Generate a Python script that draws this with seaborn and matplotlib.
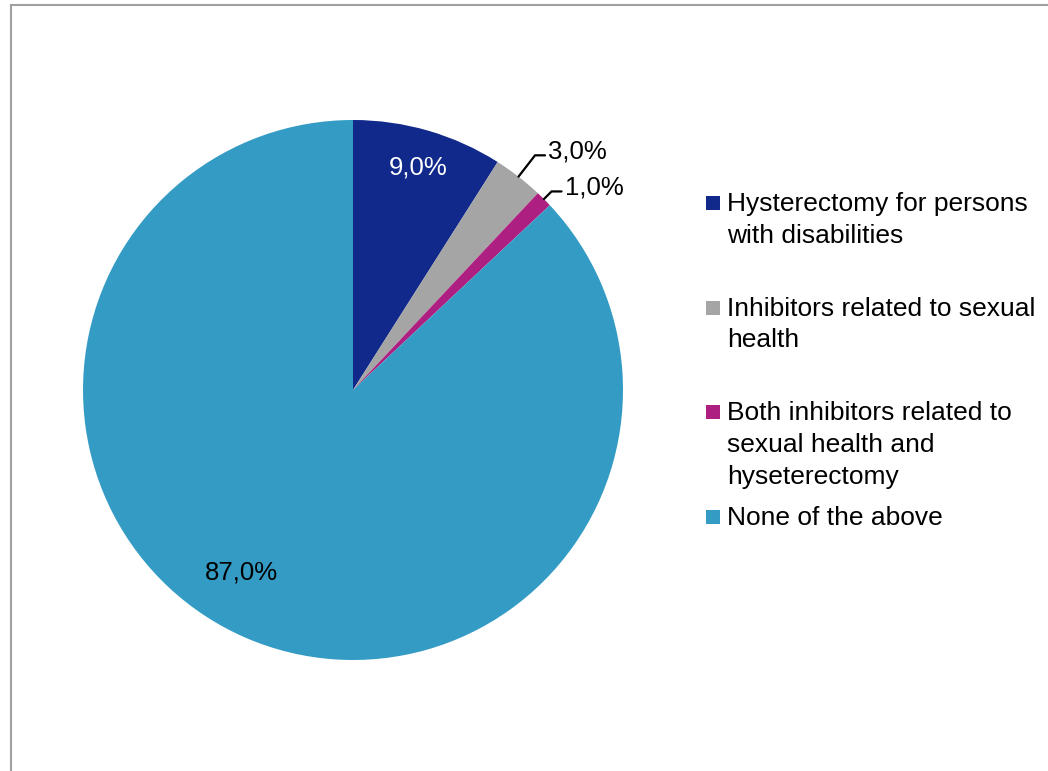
import numpy as np
import matplotlib
matplotlib.use("Agg")
import matplotlib.pyplot as plt
from matplotlib.patches import Rectangle
import seaborn as sns

# data
categories = [
    "Hysterectomy for persons\nwith disabilities",
    "Inhibitors related to sexual\nhealth",
    "Both inhibitors related to\nsexual health and\nhyseterectomy",
    "None of the above",
]
values = [9.0, 3.0, 1.0, 87.0]
colors = ["#10298B", "#A5A5A5", "#AD1F80", "#349CC4"]

sns.set_theme(style="white")
plt.rcParams["font.family"] = ["Liberation Sans", "DejaVu Sans"]

W, H = 1048, 771
fig = plt.figure(figsize=(W / 100, H / 100), dpi=100)

# outer chart frame (cut off at right/bottom like the source)
fig.patches.append(Rectangle((11 / W, -0.05), 1.2, 1 - 5 / H + 0.05,
                             transform=fig.transFigure, fill=False,
                             edgecolor="#A0A0A0", linewidth=1.5))

# pie axes: centre (353, 390), radius 270 px
cx, cy, r = 353, 390, 270
ax = fig.add_axes([(cx - r) / W, 1 - (cy + r) / H, 2 * r / W, 2 * r / H])
wedges, _ = ax.pie(values, colors=colors, startangle=90, counterclock=False,
                   radius=1, wedgeprops=dict(linewidth=0))
ax.set_xlim(-1, 1)
ax.set_ylim(-1, 1)
ax.set_aspect("equal")
ax.axis("off")

fs = 18.5
labels = [f"{v:.1f}".replace(".", ",") + "%" for v in values]
for i, (w, lab) in enumerate(zip(wedges, labels)):
    mid = np.deg2rad((w.theta1 + w.theta2) / 2)
    if i == 0:
        ax.text(0.86 * np.cos(mid), 0.86 * np.sin(mid), lab, color="white",
                fontsize=fs, ha="center", va="center")
    elif i == 3:
        a = mid - np.deg2rad(8)
        ax.text(0.79 * np.cos(a), 0.79 * np.sin(a), lab, color="black",
                fontsize=fs, ha="center", va="center")
    else:
        er = 1.1 if i == 1 else 1.04
        x0, y0 = np.cos(mid), np.sin(mid)
        x1, y1 = er * np.cos(mid), er * np.sin(mid)
        x2 = x1 + 0.037
        ax.plot([x0, x1, x2], [y0, y1, y1], color="black", lw=1.6,
                clip_on=False, solid_joinstyle="miter")
        ax.text(x2 + 0.012, y1 + 0.013, lab, color="black", fontsize=fs,
                ha="left", va="center")

# legend drawn as fixed slots
for i, (lab, c) in enumerate(zip(categories, colors)):
    y = 203 + i * 104.7
    fig.patches.append(Rectangle((706 / W, 1 - (y + 7) / H), 14 / W, 14 / H,
                                 transform=fig.transFigure, facecolor=c,
                                 edgecolor="none"))
    fig.text(727 / W, 1 - (y - 11) / H, lab, fontsize=19, ha="left",
             va="top", linespacing=1.4, color="black")

fig.savefig("out.png", dpi=100, facecolor="white")
